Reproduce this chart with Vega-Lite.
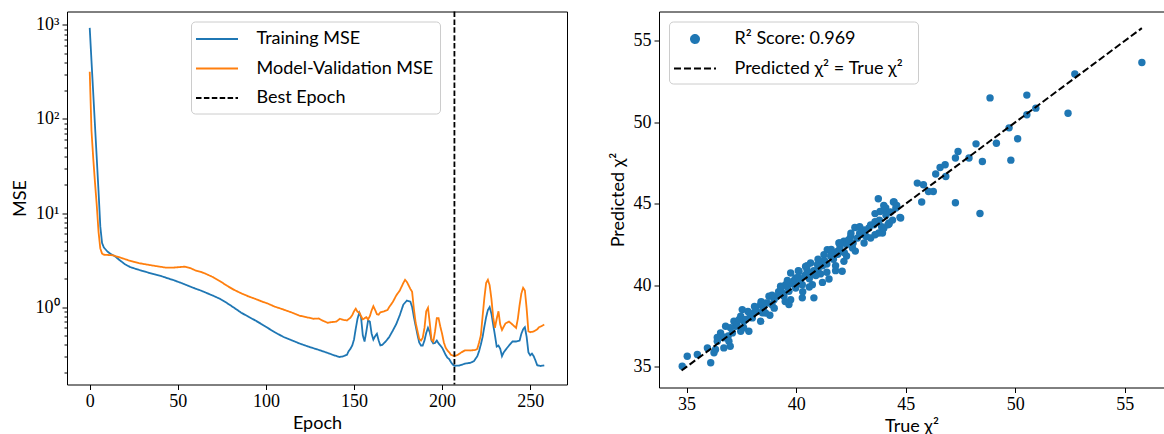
{
"$schema": "https://vega.github.io/schema/vega-lite/v6.json",
"padding": {"left": 10, "top": 9.5, "right": 0, "bottom": 0},
"spacing": 40,
"resolve": {"scale": {"color": "independent", "strokeDash": "independent"}, "legend": {"color": "independent", "strokeDash": "independent"}},
"config": {
  "view": {"stroke": "black", "strokeWidth": 1},
  "axis": {"grid": false, "domain": false, "tickColor": "black", "tickSize": 5, "tickWidth": 1, "labelFont": "Liberation Serif", "labelFontSize": 18, "labelColor": "black", "labelPadding": 3, "titleFont": "Lato", "titleFontSize": 18, "titleFontWeight": "normal", "titleColor": "black"},
  "legend": {"labelFont": "Lato", "labelFontSize": 18, "labelColor": "black", "fillColor": "white", "strokeColor": "#cccccc", "cornerRadius": 4, "padding": 6, "rowPadding": 8.5, "symbolSize": 441, "symbolOffset": 8.5, "labelOffset": 28, "symbolStrokeWidth": 1.8, "labelLimit": 400}
},
"datasets": {
"mse": [
{"epoch":0,"mse":930,"series":"Training MSE"},{"epoch":1,"mse":414,"series":"Training MSE"},{"epoch":2,"mse":187,"series":"Training MSE"},{"epoch":3,"mse":84,"series":"Training MSE"},{"epoch":4,"mse":38,"series":"Training MSE"},{"epoch":5,"mse":17,"series":"Training MSE"},{"epoch":6,"mse":7.2,"series":"Training MSE"},{"epoch":7,"mse":4.8,"series":"Training MSE"},{"epoch":8,"mse":4.3,"series":"Training MSE"},{"epoch":10,"mse":3.9,"series":"Training MSE"},{"epoch":12,"mse":3.65,"series":"Training MSE"},{"epoch":14,"mse":3.5,"series":"Training MSE"},{"epoch":17,"mse":3.15,"series":"Training MSE"},{"epoch":20,"mse":2.85,"series":"Training MSE"},{"epoch":23,"mse":2.66,"series":"Training MSE"},{"epoch":26,"mse":2.55,"series":"Training MSE"},{"epoch":29,"mse":2.45,"series":"Training MSE"},{"epoch":33,"mse":2.33,"series":"Training MSE"},{"epoch":37,"mse":2.22,"series":"Training MSE"},{"epoch":41,"mse":2.12,"series":"Training MSE"},{"epoch":44,"mse":2.03,"series":"Training MSE"},{"epoch":48,"mse":1.92,"series":"Training MSE"},{"epoch":52,"mse":1.8,"series":"Training MSE"},{"epoch":56,"mse":1.68,"series":"Training MSE"},{"epoch":60,"mse":1.57,"series":"Training MSE"},{"epoch":63,"mse":1.5,"series":"Training MSE"},{"epoch":66,"mse":1.42,"series":"Training MSE"},{"epoch":70,"mse":1.32,"series":"Training MSE"},{"epoch":74,"mse":1.22,"series":"Training MSE"},{"epoch":78,"mse":1.1,"series":"Training MSE"},{"epoch":82,"mse":0.98,"series":"Training MSE"},{"epoch":86,"mse":0.87,"series":"Training MSE"},{"epoch":90,"mse":0.79,"series":"Training MSE"},{"epoch":94,"mse":0.72,"series":"Training MSE"},{"epoch":98,"mse":0.65,"series":"Training MSE"},{"epoch":101,"mse":0.6,"series":"Training MSE"},{"epoch":105,"mse":0.54,"series":"Training MSE"},{"epoch":110,"mse":0.48,"series":"Training MSE"},{"epoch":115,"mse":0.44,"series":"Training MSE"},{"epoch":119,"mse":0.41,"series":"Training MSE"},{"epoch":124,"mse":0.38,"series":"Training MSE"},{"epoch":129,"mse":0.355,"series":"Training MSE"},{"epoch":133,"mse":0.335,"series":"Training MSE"},{"epoch":136,"mse":0.32,"series":"Training MSE"},{"epoch":139,"mse":0.305,"series":"Training MSE"},{"epoch":142,"mse":0.294,"series":"Training MSE"},{"epoch":144,"mse":0.3,"series":"Training MSE"},{"epoch":146,"mse":0.311,"series":"Training MSE"},{"epoch":147,"mse":0.34,"series":"Training MSE"},{"epoch":148,"mse":0.36,"series":"Training MSE"},{"epoch":149,"mse":0.39,"series":"Training MSE"},{"epoch":150,"mse":0.45,"series":"Training MSE"},{"epoch":151,"mse":0.59,"series":"Training MSE"},{"epoch":152,"mse":0.75,"series":"Training MSE"},{"epoch":153,"mse":0.87,"series":"Training MSE"},{"epoch":154,"mse":0.78,"series":"Training MSE"},{"epoch":155,"mse":0.5,"series":"Training MSE"},{"epoch":156,"mse":0.43,"series":"Training MSE"},{"epoch":157,"mse":0.55,"series":"Training MSE"},{"epoch":158,"mse":0.72,"series":"Training MSE"},{"epoch":159,"mse":0.7,"series":"Training MSE"},{"epoch":160,"mse":0.52,"series":"Training MSE"},{"epoch":161,"mse":0.45,"series":"Training MSE"},{"epoch":162,"mse":0.49,"series":"Training MSE"},{"epoch":163,"mse":0.52,"series":"Training MSE"},{"epoch":164,"mse":0.44,"series":"Training MSE"},{"epoch":165,"mse":0.39,"series":"Training MSE"},{"epoch":166,"mse":0.395,"series":"Training MSE"},{"epoch":168,"mse":0.43,"series":"Training MSE"},{"epoch":170,"mse":0.48,"series":"Training MSE"},{"epoch":172,"mse":0.56,"series":"Training MSE"},{"epoch":174,"mse":0.66,"series":"Training MSE"},{"epoch":176,"mse":0.82,"series":"Training MSE"},{"epoch":178,"mse":1.06,"series":"Training MSE"},{"epoch":180,"mse":1.17,"series":"Training MSE"},{"epoch":182,"mse":1.14,"series":"Training MSE"},{"epoch":183,"mse":1.0,"series":"Training MSE"},{"epoch":184,"mse":0.78,"series":"Training MSE"},{"epoch":185,"mse":0.63,"series":"Training MSE"},{"epoch":186,"mse":0.51,"series":"Training MSE"},{"epoch":187,"mse":0.42,"series":"Training MSE"},{"epoch":188,"mse":0.39,"series":"Training MSE"},{"epoch":189,"mse":0.39,"series":"Training MSE"},{"epoch":190,"mse":0.44,"series":"Training MSE"},{"epoch":191,"mse":0.53,"series":"Training MSE"},{"epoch":192,"mse":0.6,"series":"Training MSE"},{"epoch":193,"mse":0.54,"series":"Training MSE"},{"epoch":194,"mse":0.44,"series":"Training MSE"},{"epoch":195,"mse":0.41,"series":"Training MSE"},{"epoch":196,"mse":0.415,"series":"Training MSE"},{"epoch":197,"mse":0.44,"series":"Training MSE"},{"epoch":198,"mse":0.41,"series":"Training MSE"},{"epoch":199,"mse":0.39,"series":"Training MSE"},{"epoch":200,"mse":0.37,"series":"Training MSE"},{"epoch":201,"mse":0.34,"series":"Training MSE"},{"epoch":202,"mse":0.31,"series":"Training MSE"},{"epoch":203,"mse":0.29,"series":"Training MSE"},{"epoch":204,"mse":0.28,"series":"Training MSE"},{"epoch":205,"mse":0.26,"series":"Training MSE"},{"epoch":206,"mse":0.245,"series":"Training MSE"},{"epoch":207,"mse":0.236,"series":"Training MSE"},{"epoch":208,"mse":0.238,"series":"Training MSE"},{"epoch":210,"mse":0.239,"series":"Training MSE"},{"epoch":213,"mse":0.25,"series":"Training MSE"},{"epoch":216,"mse":0.255,"series":"Training MSE"},{"epoch":218,"mse":0.265,"series":"Training MSE"},{"epoch":220,"mse":0.3,"series":"Training MSE"},{"epoch":221,"mse":0.34,"series":"Training MSE"},{"epoch":222,"mse":0.4,"series":"Training MSE"},{"epoch":223,"mse":0.48,"series":"Training MSE"},{"epoch":224,"mse":0.62,"series":"Training MSE"},{"epoch":225,"mse":0.78,"series":"Training MSE"},{"epoch":226,"mse":0.93,"series":"Training MSE"},{"epoch":227,"mse":1.0,"series":"Training MSE"},{"epoch":228,"mse":0.85,"series":"Training MSE"},{"epoch":229,"mse":0.65,"series":"Training MSE"},{"epoch":230,"mse":0.5,"series":"Training MSE"},{"epoch":231,"mse":0.38,"series":"Training MSE"},{"epoch":232,"mse":0.39,"series":"Training MSE"},{"epoch":233,"mse":0.36,"series":"Training MSE"},{"epoch":234,"mse":0.3,"series":"Training MSE"},{"epoch":235,"mse":0.33,"series":"Training MSE"},{"epoch":236,"mse":0.35,"series":"Training MSE"},{"epoch":238,"mse":0.39,"series":"Training MSE"},{"epoch":240,"mse":0.43,"series":"Training MSE"},{"epoch":242,"mse":0.43,"series":"Training MSE"},{"epoch":244,"mse":0.44,"series":"Training MSE"},{"epoch":245,"mse":0.52,"series":"Training MSE"},{"epoch":246,"mse":0.58,"series":"Training MSE"},{"epoch":247,"mse":0.61,"series":"Training MSE"},{"epoch":248,"mse":0.48,"series":"Training MSE"},{"epoch":249,"mse":0.33,"series":"Training MSE"},{"epoch":250,"mse":0.306,"series":"Training MSE"},{"epoch":251,"mse":0.32,"series":"Training MSE"},{"epoch":252,"mse":0.3,"series":"Training MSE"},{"epoch":253,"mse":0.27,"series":"Training MSE"},{"epoch":254,"mse":0.24,"series":"Training MSE"},{"epoch":256,"mse":0.236,"series":"Training MSE"},{"epoch":258,"mse":0.24,"series":"Training MSE"},
{"epoch":0,"mse":318,"series":"Model-Validation MSE"},{"epoch":1,"mse":75,"series":"Model-Validation MSE"},{"epoch":2,"mse":38,"series":"Model-Validation MSE"},{"epoch":3,"mse":21,"series":"Model-Validation MSE"},{"epoch":4,"mse":12,"series":"Model-Validation MSE"},{"epoch":5,"mse":6.3,"series":"Model-Validation MSE"},{"epoch":6,"mse":4.2,"series":"Model-Validation MSE"},{"epoch":7,"mse":3.7,"series":"Model-Validation MSE"},{"epoch":8,"mse":3.6,"series":"Model-Validation MSE"},{"epoch":10,"mse":3.58,"series":"Model-Validation MSE"},{"epoch":13,"mse":3.55,"series":"Model-Validation MSE"},{"epoch":16,"mse":3.42,"series":"Model-Validation MSE"},{"epoch":19,"mse":3.28,"series":"Model-Validation MSE"},{"epoch":22,"mse":3.14,"series":"Model-Validation MSE"},{"epoch":25,"mse":3.02,"series":"Model-Validation MSE"},{"epoch":28,"mse":2.93,"series":"Model-Validation MSE"},{"epoch":31,"mse":2.86,"series":"Model-Validation MSE"},{"epoch":35,"mse":2.78,"series":"Model-Validation MSE"},{"epoch":39,"mse":2.7,"series":"Model-Validation MSE"},{"epoch":43,"mse":2.63,"series":"Model-Validation MSE"},{"epoch":47,"mse":2.62,"series":"Model-Validation MSE"},{"epoch":51,"mse":2.66,"series":"Model-Validation MSE"},{"epoch":54,"mse":2.69,"series":"Model-Validation MSE"},{"epoch":57,"mse":2.6,"series":"Model-Validation MSE"},{"epoch":60,"mse":2.45,"series":"Model-Validation MSE"},{"epoch":63,"mse":2.37,"series":"Model-Validation MSE"},{"epoch":66,"mse":2.25,"series":"Model-Validation MSE"},{"epoch":70,"mse":2.08,"series":"Model-Validation MSE"},{"epoch":74,"mse":1.88,"series":"Model-Validation MSE"},{"epoch":78,"mse":1.68,"series":"Model-Validation MSE"},{"epoch":82,"mse":1.52,"series":"Model-Validation MSE"},{"epoch":86,"mse":1.4,"series":"Model-Validation MSE"},{"epoch":90,"mse":1.3,"series":"Model-Validation MSE"},{"epoch":94,"mse":1.22,"series":"Model-Validation MSE"},{"epoch":98,"mse":1.14,"series":"Model-Validation MSE"},{"epoch":101,"mse":1.09,"series":"Model-Validation MSE"},{"epoch":105,"mse":1.01,"series":"Model-Validation MSE"},{"epoch":110,"mse":0.94,"series":"Model-Validation MSE"},{"epoch":115,"mse":0.87,"series":"Model-Validation MSE"},{"epoch":119,"mse":0.81,"series":"Model-Validation MSE"},{"epoch":123,"mse":0.78,"series":"Model-Validation MSE"},{"epoch":127,"mse":0.75,"series":"Model-Validation MSE"},{"epoch":130,"mse":0.755,"series":"Model-Validation MSE"},{"epoch":132,"mse":0.72,"series":"Model-Validation MSE"},{"epoch":135,"mse":0.68,"series":"Model-Validation MSE"},{"epoch":137,"mse":0.69,"series":"Model-Validation MSE"},{"epoch":140,"mse":0.7,"series":"Model-Validation MSE"},{"epoch":142,"mse":0.75,"series":"Model-Validation MSE"},{"epoch":144,"mse":0.73,"series":"Model-Validation MSE"},{"epoch":146,"mse":0.72,"series":"Model-Validation MSE"},{"epoch":148,"mse":0.77,"series":"Model-Validation MSE"},{"epoch":149,"mse":0.82,"series":"Model-Validation MSE"},{"epoch":150,"mse":0.9,"series":"Model-Validation MSE"},{"epoch":151,"mse":0.96,"series":"Model-Validation MSE"},{"epoch":152,"mse":0.89,"series":"Model-Validation MSE"},{"epoch":153,"mse":0.88,"series":"Model-Validation MSE"},{"epoch":154,"mse":0.8,"series":"Model-Validation MSE"},{"epoch":155,"mse":0.74,"series":"Model-Validation MSE"},{"epoch":156,"mse":0.76,"series":"Model-Validation MSE"},{"epoch":157,"mse":0.78,"series":"Model-Validation MSE"},{"epoch":158,"mse":0.74,"series":"Model-Validation MSE"},{"epoch":159,"mse":0.8,"series":"Model-Validation MSE"},{"epoch":160,"mse":0.92,"series":"Model-Validation MSE"},{"epoch":161,"mse":1.02,"series":"Model-Validation MSE"},{"epoch":162,"mse":0.93,"series":"Model-Validation MSE"},{"epoch":163,"mse":0.84,"series":"Model-Validation MSE"},{"epoch":164,"mse":0.83,"series":"Model-Validation MSE"},{"epoch":165,"mse":0.88,"series":"Model-Validation MSE"},{"epoch":167,"mse":0.9,"series":"Model-Validation MSE"},{"epoch":169,"mse":0.93,"series":"Model-Validation MSE"},{"epoch":170,"mse":1.0,"series":"Model-Validation MSE"},{"epoch":172,"mse":1.13,"series":"Model-Validation MSE"},{"epoch":174,"mse":1.33,"series":"Model-Validation MSE"},{"epoch":176,"mse":1.5,"series":"Model-Validation MSE"},{"epoch":178,"mse":1.8,"series":"Model-Validation MSE"},{"epoch":179,"mse":1.95,"series":"Model-Validation MSE"},{"epoch":180,"mse":1.85,"series":"Model-Validation MSE"},{"epoch":181,"mse":1.7,"series":"Model-Validation MSE"},{"epoch":182,"mse":1.56,"series":"Model-Validation MSE"},{"epoch":183,"mse":1.45,"series":"Model-Validation MSE"},{"epoch":184,"mse":0.95,"series":"Model-Validation MSE"},{"epoch":185,"mse":0.68,"series":"Model-Validation MSE"},{"epoch":186,"mse":0.56,"series":"Model-Validation MSE"},{"epoch":187,"mse":0.46,"series":"Model-Validation MSE"},{"epoch":188,"mse":0.44,"series":"Model-Validation MSE"},{"epoch":189,"mse":0.47,"series":"Model-Validation MSE"},{"epoch":190,"mse":0.6,"series":"Model-Validation MSE"},{"epoch":191,"mse":0.9,"series":"Model-Validation MSE"},{"epoch":192,"mse":0.98,"series":"Model-Validation MSE"},{"epoch":193,"mse":0.68,"series":"Model-Validation MSE"},{"epoch":194,"mse":0.45,"series":"Model-Validation MSE"},{"epoch":195,"mse":0.43,"series":"Model-Validation MSE"},{"epoch":196,"mse":0.55,"series":"Model-Validation MSE"},{"epoch":197,"mse":0.76,"series":"Model-Validation MSE"},{"epoch":198,"mse":0.76,"series":"Model-Validation MSE"},{"epoch":199,"mse":0.62,"series":"Model-Validation MSE"},{"epoch":200,"mse":0.52,"series":"Model-Validation MSE"},{"epoch":201,"mse":0.42,"series":"Model-Validation MSE"},{"epoch":202,"mse":0.37,"series":"Model-Validation MSE"},{"epoch":203,"mse":0.346,"series":"Model-Validation MSE"},{"epoch":204,"mse":0.33,"series":"Model-Validation MSE"},{"epoch":205,"mse":0.311,"series":"Model-Validation MSE"},{"epoch":207,"mse":0.3,"series":"Model-Validation MSE"},{"epoch":209,"mse":0.311,"series":"Model-Validation MSE"},{"epoch":211,"mse":0.33,"series":"Model-Validation MSE"},{"epoch":213,"mse":0.346,"series":"Model-Validation MSE"},{"epoch":216,"mse":0.345,"series":"Model-Validation MSE"},{"epoch":219,"mse":0.35,"series":"Model-Validation MSE"},{"epoch":220,"mse":0.36,"series":"Model-Validation MSE"},{"epoch":221,"mse":0.42,"series":"Model-Validation MSE"},{"epoch":222,"mse":0.5,"series":"Model-Validation MSE"},{"epoch":223,"mse":0.8,"series":"Model-Validation MSE"},{"epoch":224,"mse":1.25,"series":"Model-Validation MSE"},{"epoch":225,"mse":1.8,"series":"Model-Validation MSE"},{"epoch":226,"mse":1.95,"series":"Model-Validation MSE"},{"epoch":227,"mse":1.7,"series":"Model-Validation MSE"},{"epoch":228,"mse":1.22,"series":"Model-Validation MSE"},{"epoch":229,"mse":0.78,"series":"Model-Validation MSE"},{"epoch":230,"mse":0.6,"series":"Model-Validation MSE"},{"epoch":231,"mse":0.75,"series":"Model-Validation MSE"},{"epoch":232,"mse":0.9,"series":"Model-Validation MSE"},{"epoch":233,"mse":0.65,"series":"Model-Validation MSE"},{"epoch":234,"mse":0.57,"series":"Model-Validation MSE"},{"epoch":235,"mse":0.62,"series":"Model-Validation MSE"},{"epoch":236,"mse":0.67,"series":"Model-Validation MSE"},{"epoch":238,"mse":0.7,"series":"Model-Validation MSE"},{"epoch":240,"mse":0.65,"series":"Model-Validation MSE"},{"epoch":242,"mse":0.6,"series":"Model-Validation MSE"},{"epoch":243,"mse":0.75,"series":"Model-Validation MSE"},{"epoch":244,"mse":1.05,"series":"Model-Validation MSE"},{"epoch":245,"mse":1.4,"series":"Model-Validation MSE"},{"epoch":246,"mse":1.6,"series":"Model-Validation MSE"},{"epoch":247,"mse":1.5,"series":"Model-Validation MSE"},{"epoch":248,"mse":0.96,"series":"Model-Validation MSE"},{"epoch":249,"mse":0.55,"series":"Model-Validation MSE"},{"epoch":250,"mse":0.54,"series":"Model-Validation MSE"},{"epoch":252,"mse":0.55,"series":"Model-Validation MSE"},{"epoch":254,"mse":0.58,"series":"Model-Validation MSE"},{"epoch":255,"mse":0.61,"series":"Model-Validation MSE"},{"epoch":256,"mse":0.62,"series":"Model-Validation MSE"},{"epoch":258,"mse":0.65,"series":"Model-Validation MSE"}
],
"pts": [
{"t":55.78,"p":53.67},{"t":52.72,"p":52.97},{"t":48.85,"p":51.5},{"t":50.53,"p":51.67},{"t":50.94,"p":50.87},{"t":50.53,"p":50.46},{"t":52.41,"p":50.56},{"t":49.72,"p":49.66},{"t":50.11,"p":48.99},{"t":49.14,"p":48.72},{"t":48.21,"p":48.68},{"t":49.8,"p":47.68},{"t":48.5,"p":47.6},{"t":47.39,"p":48.21},{"t":47.27,"p":47.81},{"t":47.89,"p":47.81},{"t":46.8,"p":47.4},{"t":46.57,"p":47.23},{"t":46.83,"p":46.68},{"t":46.37,"p":46.83},{"t":45.53,"p":46.27},{"t":45.81,"p":46.17},{"t":46.04,"p":45.76},{"t":46.26,"p":45.76},{"t":45.73,"p":45.11},{"t":47.27,"p":45.07},{"t":48.39,"p":44.41},{"t":44.47,"p":45.11},{"t":44.09,"p":44.74},{"t":44.55,"p":44.74},{"t":44.77,"p":44.13},{"t":44.24,"p":43.82},{"t":44.19,"p":43.72},{"t":43.94,"p":43.21},
{"t":43.75,"p":45.31},{"t":44.44,"p":45.11},{"t":44.59,"p":44.9},{"t":44.01,"p":44.64},{"t":43.83,"p":44.53},{"t":44.74,"p":44.17},{"t":44.24,"p":43.76},{"t":43.55,"p":43.72},{"t":43.32,"p":43.52},{"t":43.77,"p":43.21},{"t":43.4,"p":42.9},{"t":42.68,"p":43.55},{"t":43.02,"p":43.11},{"t":42.49,"p":43.0},{"t":42.18,"p":42.7},{"t":41.95,"p":42.6},{"t":42.57,"p":42.29},{"t":41.88,"p":42.08},{"t":41.42,"p":42.19},{"t":41.27,"p":41.88},{"t":41.58,"p":41.78},{"t":42.18,"p":41.47},{"t":41.11,"p":41.47},{"t":41.8,"p":40.9},{"t":42.1,"p":40.86},{"t":40.97,"p":41.27},{"t":40.66,"p":41.37},{"t":40.43,"p":41.16},{"t":40.13,"p":40.86},{"t":39.75,"p":40.76},{"t":39.98,"p":40.45},{"t":40.66,"p":40.66},{"t":41.11,"p":40.7},{"t":41.5,"p":40.39},{"t":41.2,"p":40.18},{"t":40.74,"p":40.04},{"t":40.28,"p":40.04},{"t":39.98,"p":39.84},{"t":39.52,"p":40.04},{"t":39.29,"p":39.94},{"t":39.67,"p":39.63},{"t":39.44,"p":39.33},{"t":40.28,"p":39.23},{"t":40.81,"p":39.23},{"t":39.75,"p":39.12},{"t":39.67,"p":38.82},{"t":38.99,"p":39.12},{"t":38.76,"p":39.33},{"t":38.68,"p":38.92},{"t":38.38,"p":38.82},{"t":38.15,"p":38.62},{"t":38.46,"p":38.31},{"t":38.8,"p":38.16},{"t":38.07,"p":38.31},{"t":38.0,"p":38.0},{"t":38.38,"p":37.79},{"t":37.54,"p":38.51},{"t":37.47,"p":38.1},{"t":37.62,"p":37.79},{"t":37.16,"p":37.79},{"t":37.24,"p":37.49},{"t":37.84,"p":37.18},{"t":37.47,"p":37.18},{"t":37.09,"p":37.08},{"t":36.78,"p":37.49},{"t":36.55,"p":37.08},{"t":36.7,"p":36.78},{"t":36.93,"p":36.57},{"t":36.4,"p":36.57},{"t":36.99,"p":36.26},{"t":36.7,"p":36.16},{"t":36.32,"p":36.06},{"t":35.95,"p":36.16},{"t":36.25,"p":35.86},{"t":35.49,"p":35.75},{"t":35.03,"p":35.65},{"t":36.1,"p":35.25},{"t":34.8,"p":35.04},
{"t":37.3,"p":37.6},{"t":37.7,"p":37.9},{"t":37.9,"p":38.2},{"t":38.2,"p":38.4},{"t":38.5,"p":38.6},{"t":38.6,"p":38.9},{"t":38.9,"p":38.8},{"t":39.1,"p":39.3},{"t":39.2,"p":39.6},{"t":39.4,"p":39.5},{"t":39.6,"p":39.9},{"t":39.8,"p":40.1},{"t":39.9,"p":40.3},{"t":40.0,"p":40.0},{"t":40.1,"p":40.5},{"t":40.2,"p":40.3},{"t":40.4,"p":40.6},{"t":40.5,"p":40.9},{"t":40.6,"p":40.4},{"t":40.8,"p":40.9},{"t":40.9,"p":40.6},{"t":41.0,"p":41.0},{"t":41.2,"p":41.2},{"t":41.3,"p":41.5},{"t":41.4,"p":41.3},{"t":41.6,"p":41.9},{"t":41.7,"p":41.6},{"t":41.9,"p":41.9},{"t":42.0,"p":42.3},{"t":42.2,"p":42.0},{"t":42.3,"p":42.5},{"t":42.4,"p":42.8},{"t":42.6,"p":42.6},{"t":42.8,"p":42.9},{"t":42.9,"p":43.2},{"t":43.1,"p":43.4},{"t":43.2,"p":43.0},{"t":43.4,"p":43.7},{"t":43.6,"p":43.9},{"t":43.8,"p":44.0},{"t":43.9,"p":43.6},{"t":44.1,"p":44.3},{"t":44.3,"p":44.5},{"t":44.0,"p":44.9},{"t":43.6,"p":44.4},{"t":42.9,"p":43.6},{"t":42.5,"p":43.2},{"t":42.0,"p":42.6},{"t":41.6,"p":42.2},{"t":41.0,"p":41.6},{"t":40.5,"p":41.2},{"t":40.1,"p":40.9},{"t":39.6,"p":40.3},{"t":39.3,"p":39.8},{"t":38.9,"p":39.4},{"t":38.4,"p":39.0},{"t":38.1,"p":38.7},{"t":37.8,"p":38.4},{"t":37.4,"p":37.9},{"t":37.0,"p":37.4},{"t":36.6,"p":36.9},{"t":36.4,"p":36.8},{"t":36.9,"p":36.9},{"t":37.6,"p":37.4},{"t":38.6,"p":38.3},{"t":39.0,"p":38.6},{"t":39.5,"p":39.0},{"t":40.3,"p":39.6},{"t":40.6,"p":39.9},{"t":41.4,"p":40.8},{"t":41.8,"p":41.2},{"t":42.3,"p":41.8},{"t":42.7,"p":42.1},{"t":43.1,"p":42.6},{"t":43.6,"p":43.1},{"t":44.0,"p":43.5},{"t":44.4,"p":44.0}
]
},
"hconcat": [
{
  "width": 500,
  "height": 373,
  "layer": [
    {
      "data": {"name": "mse"},
      "mark": {"type": "line", "strokeWidth": 1.8, "clip": true},
      "encoding": {
        "x": {"field": "epoch", "type": "quantitative", "scale": {"domain": [-12.9, 270.9], "nice": false, "zero": false}, "axis": {"values": [0, 50, 100, 150, 200, 250], "title": "Epoch", "format": "d", "titlePadding": 4}},
        "y": {"field": "mse", "type": "quantitative", "scale": {"type": "log", "domain": [0.15, 1390], "nice": false}, "axis": {"values": [0.2,0.3,0.4,0.5,0.6,0.7,0.8,0.9,1,2,3,4,5,6,7,8,9,10,20,30,40,50,60,70,80,90,100,200,300,400,500,600,700,800,900,1000], "labelExpr": "datum.value == 1 ? '10⁰' : datum.value == 10 ? '10¹' : datum.value == 100 ? '10²' : datum.value == 1000 ? '10³' : ''", "tickSize": {"condition": {"test": "datum.value == 1 || datum.value == 10 || datum.value == 100 || datum.value == 1000", "value": 5}, "value": 3}, "title": "MSE", "titlePadding": 6}},
        "color": {"field": "series", "type": "nominal", "scale": {"domain": ["Training MSE", "Model-Validation MSE", "Best Epoch"], "range": ["#1f77b4", "#ff7f0e", "black"]}, "legend": {"title": null, "orient": "none", "legendX": 124, "legendY": 10, "symbolType": "M-2,0H2", "symbolSize": 441}},
        "strokeDash": {"field": "series", "type": "nominal", "scale": {"domain": ["Training MSE", "Model-Validation MSE", "Best Epoch"], "range": [[1, 0], [1, 0], [5.5, 2.4]]}, "legend": {"title": null, "orient": "none", "legendX": 124, "legendY": 10, "symbolType": "M-2,0H2", "symbolSize": 441}}
      }
    },
    {
      "data": {"values": [{"epoch": 207, "series": "Best Epoch"}]},
      "mark": {"type": "rule", "strokeWidth": 1.8},
      "encoding": {
        "x": {"field": "epoch", "type": "quantitative"},
        "color": {"field": "series", "type": "nominal"},
        "strokeDash": {"field": "series", "type": "nominal"}
      }
    }
  ]
},
{
  "width": 505,
  "height": 376,
  "layer": [
    {
      "data": {"name": "pts"},
      "mark": {"type": "point", "filled": true, "size": 55, "opacity": 1, "shape": "circle"},
      "encoding": {
        "x": {"field": "t", "type": "quantitative", "scale": {"domain": [33.74, 56.79], "nice": false, "zero": false}, "axis": {"values": [35, 40, 45, 50, 55], "title": "True χ²", "titlePadding": 4}},
        "y": {"field": "p", "type": "quantitative", "scale": {"domain": [33.73, 56.8], "nice": false, "zero": false}, "axis": {"values": [35, 40, 45, 50, 55], "title": "Predicted χ²", "titlePadding": 6}},
        "color": {"datum": "R² Score:  0.969", "type": "nominal", "scale": {"domain": ["R² Score:  0.969", "Predicted χ²  =  True χ²"], "range": ["#1f77b4", "black"]}, "legend": {"title": null, "orient": "none", "legendX": 10, "legendY": 10, "symbolType": "M-2,0H2", "symbolSize": 441,
          "encode": {"symbols": {"update": {
            "shape": {"signal": "datum.value === 'R² Score:  0.969' ? 'M-0.38,0A0.38,0.38,0,1,0,0.38,0A0.38,0.38,0,1,0,-0.38,0Z' : 'M-2,0H2'"},
            "fill": {"signal": "datum.value === 'R² Score:  0.969' ? '#1f77b4' : 'transparent'"},
            "stroke": {"signal": "datum.value === 'R² Score:  0.969' ? 'transparent' : 'black'"},
            "strokeDash": {"signal": "datum.value === 'R² Score:  0.969' ? [1, 0] : [7, 3]"},
            "strokeWidth": {"value": 2},
            "opacity": {"value": 1}
          }}}}}
      }
    },
    {
      "data": {"values": [{"lo": 34.77, "hi": 55.78}]},
      "mark": {"type": "rule", "strokeWidth": 2, "strokeDash": [7, 3]},
      "encoding": {
        "x": {"field": "lo", "type": "quantitative"},
        "y": {"field": "lo", "type": "quantitative"},
        "x2": {"field": "hi"},
        "y2": {"field": "hi"},
        "color": {"datum": "Predicted χ²  =  True χ²", "type": "nominal", "legend": {"title": null, "orient": "none", "legendX": 10, "legendY": 10, "symbolType": "M-2,0H2", "symbolSize": 441,
          "encode": {"symbols": {"update": {
            "shape": {"signal": "datum.value === 'R² Score:  0.969' ? 'M-0.38,0A0.38,0.38,0,1,0,0.38,0A0.38,0.38,0,1,0,-0.38,0Z' : 'M-2,0H2'"},
            "fill": {"signal": "datum.value === 'R² Score:  0.969' ? '#1f77b4' : 'transparent'"},
            "stroke": {"signal": "datum.value === 'R² Score:  0.969' ? 'transparent' : 'black'"},
            "strokeDash": {"signal": "datum.value === 'R² Score:  0.969' ? [1, 0] : [7, 3]"},
            "strokeWidth": {"value": 2},
            "opacity": {"value": 1}
          }}}}}
      }
    }
  ]
}
]
}
